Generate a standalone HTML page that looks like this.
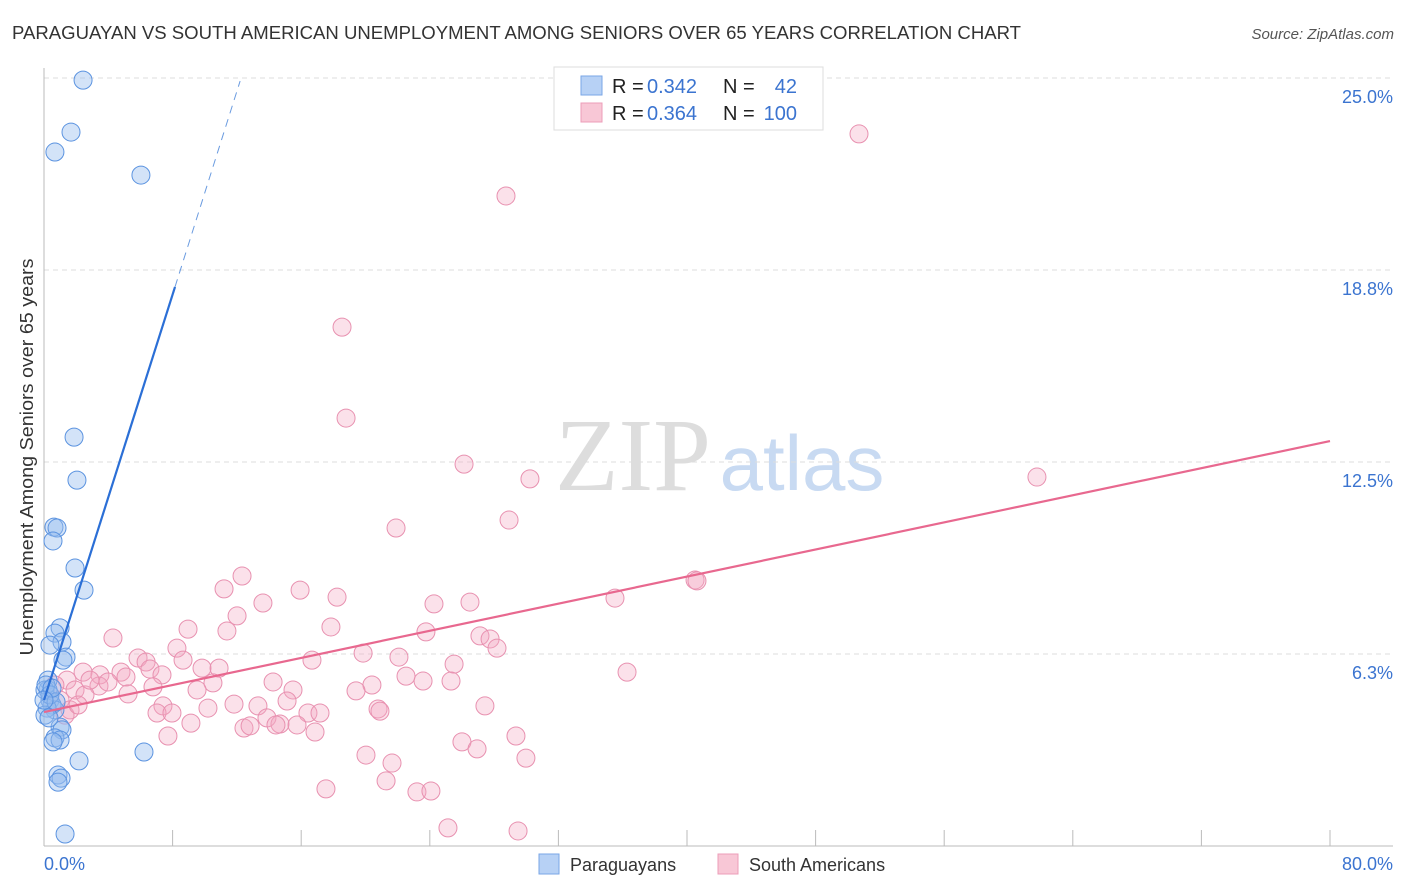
<!DOCTYPE html>
<html><head><meta charset="utf-8"><style>
body{margin:0;background:#fff;font-family:"Liberation Sans",sans-serif}
svg{display:block}
</style></head><body>
<svg id="chart" width="1406" height="892">
<text x="12" y="39" font-size="18.5" fill="#333" textLength="1009" lengthAdjust="spacingAndGlyphs">PARAGUAYAN VS SOUTH AMERICAN UNEMPLOYMENT AMONG SENIORS OVER 65 YEARS CORRELATION CHART</text>
<text x="1394" y="39" font-size="15" fill="#555" font-style="italic" text-anchor="end">Source: ZipAtlas.com</text>
<text x="633" y="490" font-size="104" fill="#ddd" font-family="Liberation Serif,serif" text-anchor="middle">ZIP</text>
<text x="802" y="490" font-size="78" fill="#c8daf2" text-anchor="middle">atlas</text>
<text transform="translate(33,457) rotate(-90)" font-size="18.5" fill="#333" text-anchor="middle" textLength="397" lengthAdjust="spacingAndGlyphs">Unemployment Among Seniors over 65 years</text>
<g id="grid"></g><g id="axes"></g><g id="pts"></g><g id="lines"></g>
<g>
<rect x="554" y="67" width="269" height="63" fill="#fff" stroke="#ddd"/>
<rect x="581" y="76" width="21" height="19" fill="#b7d1f5" stroke="#7aa6e6"/>
<rect x="581" y="103" width="21" height="19" fill="#f8c7d6" stroke="#ec9db8"/>
<text x="612" y="93" font-size="20" fill="#222">R =</text><text x="647" y="93" font-size="20" fill="#3b74d0">0.342</text>
<text x="723" y="93" font-size="20" fill="#222">N =</text><text x="797" y="93" font-size="20" fill="#3b74d0" text-anchor="end">42</text>
<text x="612" y="120" font-size="20" fill="#222">R =</text><text x="647" y="120" font-size="20" fill="#3b74d0">0.364</text>
<text x="723" y="120" font-size="20" fill="#222">N =</text><text x="797" y="120" font-size="20" fill="#3b74d0" text-anchor="end">100</text>
</g>
<g>
<rect x="539" y="854" width="20" height="20" fill="#b7d1f5" stroke="#7aa6e6"/>
<text x="570" y="871" font-size="18" fill="#333">Paraguayans</text>
<rect x="718" y="854" width="20" height="20" fill="#f8c7d6" stroke="#ec9db8"/>
<text x="749" y="871" font-size="18" fill="#333">South Americans</text>
</g>
<text x="44" y="870" font-size="18" fill="#3b74d0">0.0%</text>
<text x="1393" y="870" font-size="18" fill="#3b74d0" text-anchor="end">80.0%</text>
</svg>
<script>
const blueX=[2.43,1.68,0.68,6.03,1.87,2.05,0.62,0.81,0.56,1.93,2.49,1.0,0.68,1.12,1.37,1.18,0.37,0.25,0.25,0.37,0.5,0.68,0.06,0.19,1.0,1.12,0.68,1.0,0.56,2.18,6.22,0.87,1.06,0.87,1.31,0.12,0.37,0.06,0.75,0.31,0.5,0];
const blueY=[24.93,23.24,22.59,21.84,13.31,11.91,10.38,10.35,9.93,9.05,8.33,7.1,6.93,6.64,6.15,6.05,6.54,5.4,5.08,4.75,4.59,4.43,5.08,4.49,3.87,3.78,3.52,3.45,3.39,2.77,3.06,2.31,2.21,2.08,0.39,5.24,4.92,4.26,4.69,4.17,5.14,4.75];
const pinkX=[50.7,28.74,18.54,18.79,26.13,30.23,61.77,21.9,28.93,12.32,11.2,15.93,18.23,13.62,24.26,26.5,35.52,40.5,40.62,12.01,8.96,11.38,17.85,23.76,27.12,27.75,28.18,4.29,8.27,5.85,6.35,8.65,16.67,19.85,22.08,25.51,36.27,2.43,3.48,4.79,5.1,6.59,7.34,9.83,10.89,10.51,14.25,15.49,20.4,22.52,23.58,25.32,19.41,3.42,3.98,5.23,6.78,9.52,11.82,13.31,15.12,10.2,7.4,7.03,7.96,16.42,17.17,20.78,20.9,27.43,9.14,12.44,12.82,13.87,14.68,14.43,15.74,16.86,7.71,26.0,26.94,29.36,20.03,21.65,29.98,21.28,17.54,23.2,24.07,25.13,29.49,1.43,1.93,2.55,1.0,1.62,0.68,2.86,1.31,2.12];
const pinkY=[23.18,21.16,16.89,13.93,12.43,11.95,12.01,10.35,10.61,8.79,8.37,8.33,8.1,7.91,7.88,7.94,8.07,8.66,8.63,7.49,7.06,7.0,7.13,6.97,6.84,6.74,6.44,6.77,6.44,6.12,5.99,6.05,6.05,6.28,6.15,5.92,5.66,5.66,5.57,5.66,5.5,5.76,5.57,5.79,5.79,5.31,5.34,5.08,5.24,5.53,5.37,5.37,5.05,5.21,5.34,4.95,5.18,5.08,4.62,4.56,4.72,4.49,4.56,4.33,4.33,4.33,4.33,4.46,4.39,4.56,4.0,3.84,3.91,4.17,3.97,3.94,3.94,3.71,3.58,3.39,3.16,3.58,2.96,2.7,2.86,2.12,1.86,1.76,1.79,0.59,0.49,5.4,5.08,4.92,4.75,4.43,5.24,5.4,4.26,4.59];
const yTicks=[25,18.75,12.5,6.25];
const yTickLabels=["25.0%","18.8%","12.5%","6.3%"];
const xTicks=[0,8,16,24,32,40,48,56,64,72,80];
const blueTrend=[0,4.75,8.15,18.2,12.2,24.9];
const pinkTrend=[0,4.36,80,13.18];
const NS="http://www.w3.org/2000/svg";
const sx=v=>44+v/80*1286, sy=v=>846-v/6.25*192;
function mk(tag,attrs,parent){const e=document.createElementNS(NS,tag);for(const k in attrs)e.setAttribute(k,attrs[k]);document.getElementById(parent).appendChild(e);return e;}
yTicks.forEach((t,i)=>{
 const g=mk('line',{x1:44,x2:1393,y1:sy(t),y2:sy(t),stroke:'#ddd','stroke-dasharray':'5,4'},'grid');
 
 
 const l=mk('text',{x:1393,y:sy(t)+25,'font-size':18,fill:'#3b74d0','text-anchor':'end'},'grid');
 l.textContent=yTickLabels[i];
 
 
});
const ax=mk('line',{x1:44,x2:44,y1:68,y2:846,stroke:'#bbb'},'axes');


const bx=mk('line',{x1:44,x2:1393,y1:846,y2:846,stroke:'#bbb'},'axes');


xTicks.forEach(t=>{
 const k=mk('line',{x1:sx(t),x2:sx(t),y1:830,y2:846,stroke:'#bbb'},'axes');
 
 
});
pinkX.forEach((x,i)=>{
 const c=mk('circle',{cx:sx(x),cy:sy(pinkY[i]),r:9,fill:'rgba(244,170,195,0.35)',stroke:'#e891b0','stroke-width':1},'pts');
 
 
});
blueX.forEach((x,i)=>{
 const c=mk('circle',{cx:sx(x),cy:sy(blueY[i]),r:9,fill:'rgba(150,188,238,0.42)',stroke:'#5b93e0','stroke-width':1},'pts');
 
 
});
const b1=mk('line',{x1:sx(blueTrend[0]),y1:sy(blueTrend[1]),x2:sx(blueTrend[2]),y2:sy(blueTrend[3]),stroke:'#2b6fd6','stroke-width':2.2},'lines');


const b2=mk('line',{x1:sx(blueTrend[2]),y1:sy(blueTrend[3]),x2:sx(blueTrend[4]),y2:sy(blueTrend[5]),stroke:'#6a9be0','stroke-width':1,'stroke-dasharray':'8,6'},'lines');


const p1=mk('line',{x1:sx(pinkTrend[0]),y1:sy(pinkTrend[1]),x2:sx(pinkTrend[2]),y2:sy(pinkTrend[3]),stroke:'#e8688f','stroke-width':2.2},'lines');


</script>
</body></html>
